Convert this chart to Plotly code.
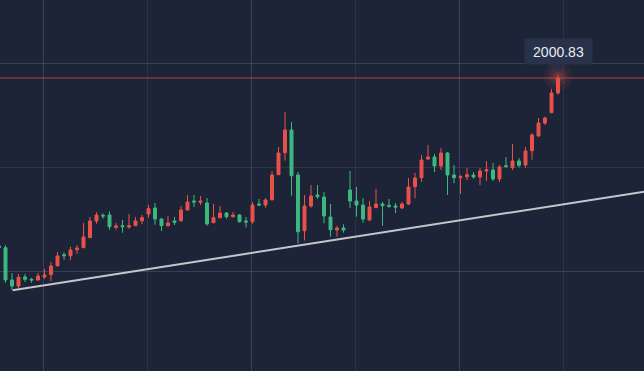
import plotly.graph_objects as go

# ---- data (price values) ----
idx = list(range(87))
open_ = [1664.8, 1661.4, 1596.8, 1584.8, 1602.8, 1598.2, 1596.8, 1602.8, 1607.4, 1625.4,
         1647.4, 1645.4, 1657.4, 1661.4, 1681.4, 1714.8, 1726.2, 1726.8, 1702.2, 1705.4,
         1702.8, 1705.4, 1715.4, 1728.8, 1740.8, 1718.8, 1705.4, 1714.8, 1715.4, 1736.8,
         1754.8, 1752.2, 1750.8, 1711.4, 1721.4, 1730.8, 1723.4, 1726.8, 1714.8, 1713.4,
         1748.8, 1746.8, 1757.4, 1807.4, 1851.4, 1896.8, 1806.8, 1695.4, 1744.8, 1766.8,
         1762.8, 1722.8, 1696.8, 1700.8, 1776.8, 1754.8, 1746.8, 1716.8, 1741.4, 1748.8,
         1746.2, 1744.8, 1740.8, 1748.8, 1783.4, 1801.4, 1838.8, 1842.8, 1824.8, 1850.8,
         1806.8, 1801.4, 1803.4, 1806.8, 1802.8, 1814.8, 1816.8, 1798.8, 1825.4, 1821.4,
         1834.8, 1826.8, 1855.4, 1884.8, 1910.8, 1931.4, 1970.8]
high = [1666.8, 1666.8, 1610.8, 1608.8, 1608.8, 1600.8, 1610.8, 1618.8, 1632.8, 1652.8,
        1652.2, 1663.4, 1666.2, 1710.8, 1722.8, 1732.2, 1730.2, 1734.2, 1710.8, 1716.8,
        1728.8, 1722.8, 1726.8, 1746.8, 1750.8, 1720.2, 1724.8, 1722.8, 1744.8, 1766.8,
        1766.8, 1764.8, 1760.8, 1748.8, 1744.8, 1732.8, 1732.8, 1728.8, 1722.8, 1752.8,
        1758.8, 1760.8, 1814.8, 1862.8, 1932.8, 1912.8, 1812.8, 1766.8, 1786.8, 1786.8,
        1772.8, 1748.8, 1704.8, 1708.2, 1814.8, 1782.8, 1760.8, 1754.8, 1778.8, 1752.8,
        1758.8, 1750.8, 1752.8, 1800.8, 1811.4, 1846.8, 1866.8, 1848.8, 1860.8, 1852.8,
        1826.8, 1806.8, 1820.8, 1812.8, 1820.8, 1834.8, 1830.8, 1826.8, 1842.8, 1868.8,
        1840.8, 1862.8, 1890.8, 1920.8, 1923.4, 1978.8, 2007.4]
low = [1658.8, 1591.4, 1576.8, 1580.8, 1592.8, 1591.4, 1595.4, 1599.4, 1594.8, 1623.4,
       1636.8, 1636.8, 1649.4, 1660.8, 1681.4, 1709.4, 1719.4, 1697.4, 1697.4, 1691.4,
       1699.4, 1704.8, 1708.8, 1721.4, 1707.4, 1694.8, 1703.4, 1706.8, 1713.4, 1736.8,
       1742.8, 1746.8, 1705.4, 1711.4, 1720.2, 1719.4, 1721.4, 1711.4, 1701.4, 1709.4,
       1744.8, 1741.4, 1755.4, 1807.4, 1835.4, 1765.4, 1670.2, 1675.8, 1741.4, 1759.4,
       1710.2, 1683.4, 1683.4, 1691.4, 1740.8, 1723.4, 1711.4, 1715.4, 1741.4, 1705.4,
       1741.4, 1730.8, 1738.8, 1746.8, 1760.2, 1793.4, 1836.8, 1812.8, 1816.8, 1766.8,
       1790.2, 1768.8, 1796.8, 1799.4, 1786.8, 1794.8, 1794.8, 1792.8, 1822.2, 1816.8,
       1822.2, 1821.4, 1837.4, 1883.4, 1906.8, 1930.8, 1967.4]
close = [1661.4, 1596.8, 1584.8, 1602.2, 1598.2, 1596.8, 1604.8, 1606.8, 1624.8, 1644.8,
         1645.4, 1656.8, 1660.8, 1682.8, 1714.8, 1726.8, 1724.8, 1703.4, 1704.8, 1703.4,
         1705.4, 1714.8, 1721.4, 1739.4, 1718.8, 1705.4, 1710.8, 1712.2, 1736.8, 1752.8,
         1752.8, 1754.8, 1708.8, 1721.4, 1730.8, 1723.4, 1726.8, 1713.4, 1712.8, 1746.8,
         1746.8, 1756.8, 1806.8, 1850.8, 1896.8, 1805.4, 1693.4, 1744.8, 1764.8, 1763.4,
         1724.8, 1697.4, 1700.8, 1696.8, 1754.8, 1746.8, 1718.8, 1742.8, 1748.8, 1745.4,
         1744.2, 1742.8, 1748.8, 1782.8, 1800.8, 1836.8, 1842.8, 1824.8, 1850.8, 1806.8,
         1801.4, 1803.4, 1807.4, 1802.8, 1814.8, 1817.4, 1798.8, 1822.8, 1823.4, 1834.8,
         1826.2, 1854.8, 1886.8, 1910.8, 1920.8, 1970.8, 2000.83]

last_price = 2000.83
last_label = "2000.83"
trend_x = [2.1, 99.4]
trend_y = [1576.2, 1773.8]

# ---- styles ----
BG = "rgb(30,36,56)"
RED = "#E8524A"
GREEN = "#3BB97F"
GRID_MAJOR = "rgba(120,130,155,0.30)"
GRID_MINOR = "rgba(100,110,135,0.20)"

fig = go.Figure()

fig.add_trace(go.Candlestick(
    x=idx, open=open_, high=high, low=low, close=close,
    increasing=dict(line=dict(color=RED, width=1), fillcolor=RED),
    decreasing=dict(line=dict(color=GREEN, width=1), fillcolor=GREEN),
    whiskerwidth=0, showlegend=False, hoverinfo="skip",
))

fig.add_trace(go.Scatter(
    x=trend_x, y=trend_y, mode="lines",
    line=dict(color="rgb(196,198,204)", width=2),
    showlegend=False, hoverinfo="skip",
))

# glow around the last candle
for s, op in [(28, 0.08), (19, 0.12), (11, 0.18)]:
    fig.add_trace(go.Scatter(
        x=[idx[-1]], y=[high[-1] - 4], mode="markers",
        marker=dict(size=s, color=RED, opacity=op, line=dict(width=0)),
        showlegend=False, hoverinfo="skip",
    ))

# price line
fig.add_shape(type="line", xref="paper", x0=0, x1=1, yref="y", y0=last_price, y1=last_price,
              line=dict(color="rgba(214,72,64,0.85)", width=1), layer="below")

# pointer under the label
fig.add_shape(type="path", xref="x", yref="y", xsizemode="pixel", ysizemode="pixel",
              xanchor=idx[-1], yanchor=last_price,
              path="M -9,14 L 9,14 L 0,6 Z",
              fillcolor="rgba(40,50,74,0.7)", line=dict(width=0))

fig.add_annotation(
    x=idx[-1], y=last_price, xref="x", yref="y", text=last_label, showarrow=False,
    yshift=26, bgcolor="rgb(40,50,74)", borderpad=5, width=57, height=15,
    font=dict(family="Liberation Sans, Arial, sans-serif", size=14, color="#E9ECF2"),
)

fig.update_layout(
    width=644, height=371,
    margin=dict(l=0, r=0, t=0, b=0),
    paper_bgcolor=BG, plot_bgcolor=BG,
    boxgap=0.35,
    xaxis=dict(range=[0.1538, 99.23], showticklabels=False, ticks="", zeroline=False,
               showgrid=True, gridcolor=GRID_MAJOR, gridwidth=1, tick0=6.83, dtick=32,
               minor=dict(showgrid=True, gridcolor=GRID_MINOR, tick0=6.83, dtick=16),
               rangeslider=dict(visible=False), fixedrange=True),
    yaxis=dict(range=[1414.8, 2156.8], showticklabels=False, ticks="", zeroline=False,
               showgrid=True, gridcolor=GRID_MAJOR, gridwidth=1, tick0=1614.2, dtick=416,
               minor=dict(showgrid=True, gridcolor=GRID_MINOR, tick0=1614.2, dtick=208),
               fixedrange=True),
)

fig.write_html("out.html", config={"displayModeBar": False},
               post_script="document.body.style.margin='0';document.body.style.overflow='hidden';")
